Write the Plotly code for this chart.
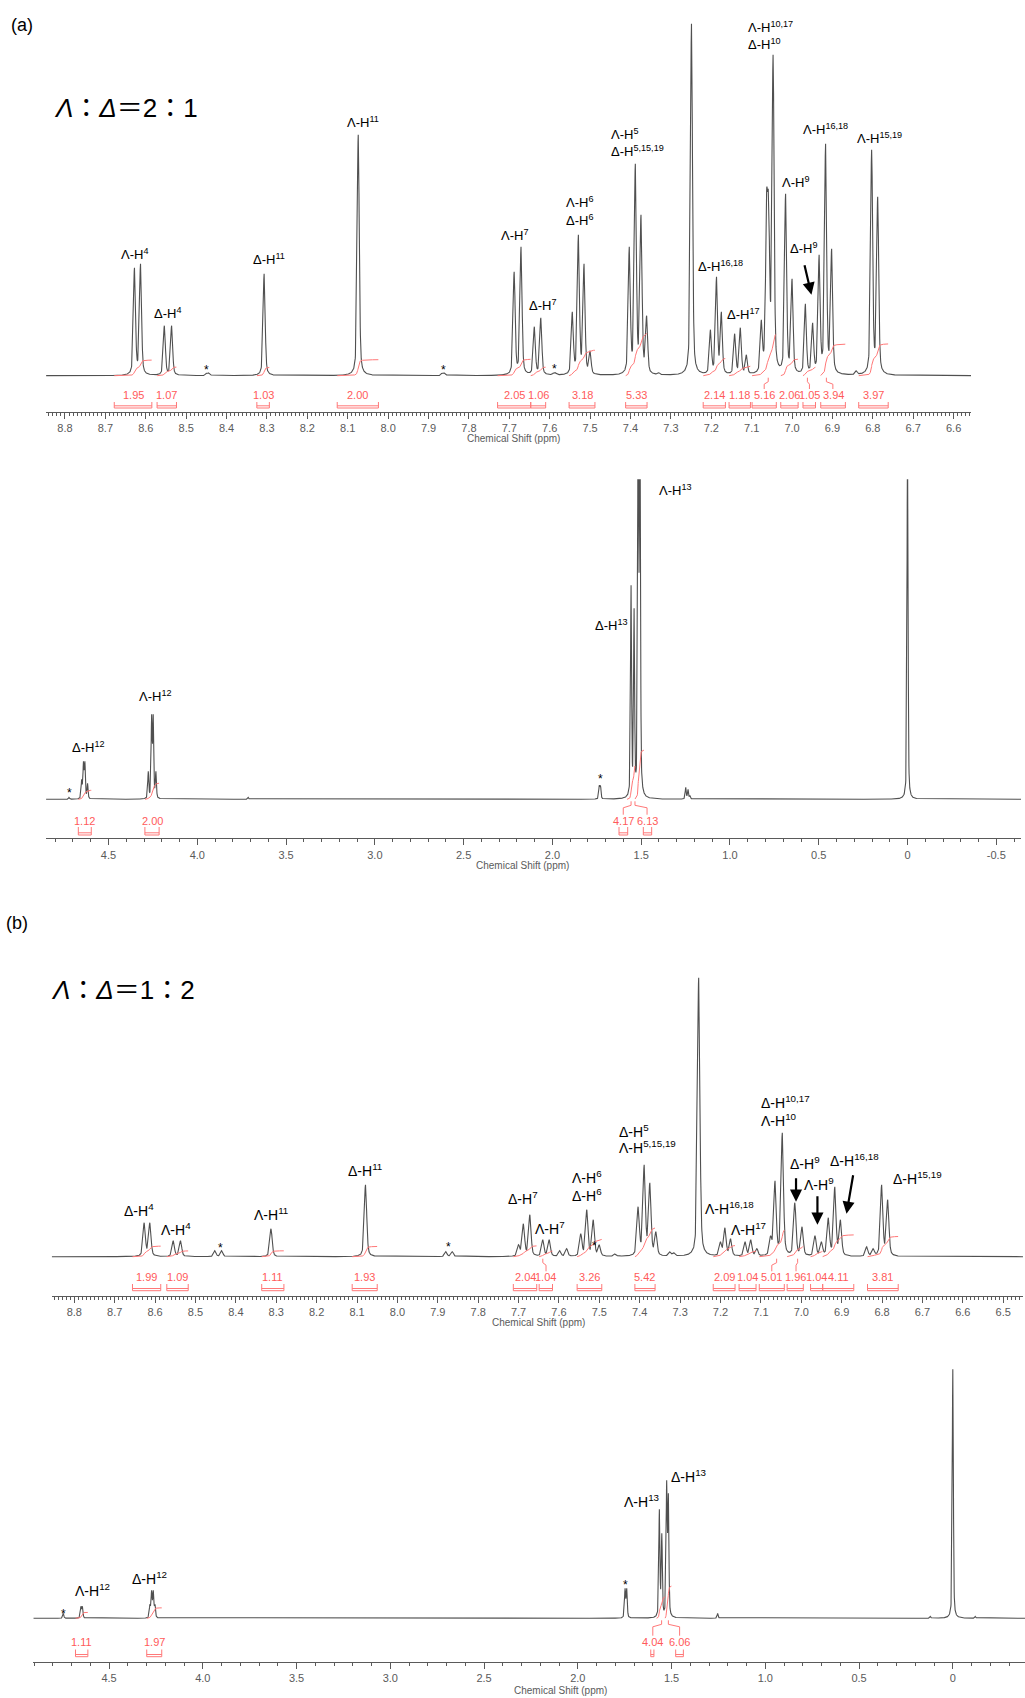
import numpy as np
import plotly.graph_objects as go

W, H = 1025, 1698

# ======================= DATA =======================
# ---- (a) Λ:Δ = 2:1, aromatic region ----
a1_peak_ppm = [8.628, 8.613, 8.554, 8.536, 8.449, 8.443, 8.307, 8.074, 7.866, 7.860,
               7.688, 7.671, 7.638, 7.622, 7.590, 7.585, 7.544, 7.529, 7.515, 7.500,
               7.403, 7.388, 7.374, 7.360, 7.330, 7.249, 7.202, 7.187, 7.175, 7.142,
               7.128, 7.113, 7.076, 7.063, 7.058, 7.047, 7.016, 7.000, 6.967, 6.949,
               6.933, 6.917, 6.902, 6.841, 6.803, 6.788]
a1_peak_int = [108, 112, 50, 50, 3, 3, 102, 241, 3, 3,
               104, 129, 49, 58, 3, 3, 64, 141, 112, 25,
               129, 212, 161, 60, 3, 352, 46, 99, 64, 42,
               48, 21, 56, 184, 182, 321, 182, 97, 72, 53,
               121, 232, 127, 5, 226, 179]
a1_int_hi = [8.678, 8.572, 8.325, 8.126, 7.729, 7.647, 7.552, 7.412, 7.220, 7.156, 7.099, 7.028, 6.973, 6.929, 6.835]
a1_int_lo = [8.585, 8.524, 8.294, 8.024, 7.647, 7.610, 7.488, 7.359, 7.165, 7.103, 7.039, 6.985, 6.942, 6.868, 6.762]
a1_int_val = ["1.95", "1.07", "1.03", "2.00", "2.05", "1.06", "3.18", "5.33", "2.14", "1.18", "5.16", "2.06", "1.05", "3.94", "3.97"]
a1_tick_ppm = [8.8, 8.7, 8.6, 8.5, 8.4, 8.3, 8.2, 8.1, 8.0, 7.9, 7.8, 7.7, 7.6, 7.5, 7.4, 7.3, 7.2, 7.1, 7.0, 6.9, 6.8, 6.7, 6.6]
a1_tick_text = ["8.8", "8.7", "8.6", "8.5", "8.4", "8.3", "8.2", "8.1", "8.0", "7.9", "7.8", "7.7", "7.6", "7.5", "7.4", "7.3", "7.2", "7.1", "7.0", "6.9", "6.8", "6.7", "6.6"]

# ---- (a) aliphatic / full region ----
a2_peak_ppm = [4.722, 4.651, 4.641, 4.633, 4.618, 4.276, 4.257, 4.248, 4.233, 3.713,
               1.736, 1.729, 1.557, 1.540, 1.517, 1.507, 1.249, 1.236, 1.225, 0.000]
a2_peak_int = [2, 20, 38, 38, 16, 28, 85, 85, 28, 2,
               14, 14, 214, 191, 420, 420, 12, 10, 4, 360]
a2_int_hi = [4.670, 4.295, 1.625, 1.488]
a2_int_lo = [4.597, 4.215, 1.576, 1.441]
a2_int_val = ["1.12", "2.00", "4.17", "6.13"]
a2_tick_ppm = [4.5, 4.0, 3.5, 3.0, 2.5, 2.0, 1.5, 1.0, 0.5, 0.0, -0.5]
a2_tick_text = ["4.5", "4.0", "3.5", "3.0", "2.5", "2.0", "1.5", "1.0", "0.5", "0", "-0.5"]

# ---- (b) Λ:Δ = 1:2, aromatic region ----
b1_peak_ppm = [8.627, 8.613, 8.555, 8.537, 8.452, 8.435, 8.313, 8.079, 7.880, 7.864,
               7.700, 7.688, 7.672, 7.640, 7.624, 7.598, 7.581, 7.546, 7.531, 7.515,
               7.500, 7.461, 7.404, 7.389, 7.375, 7.360, 7.325, 7.315, 7.254, 7.200,
               7.189, 7.175, 7.139, 7.125, 7.110, 7.076, 7.065, 7.047, 7.016, 6.998,
               6.966, 6.950, 6.933, 6.917, 6.903, 6.838, 6.822, 6.801, 6.786]
b1_peak_int = [34, 34, 16, 16, 6, 6, 28, 72, 5, 5,
               12, 33, 42, 17, 17, 6, 8, 23, 47, 37,
               12, 3, 50, 92, 74, 25, 5, 4, 279, 15,
               29, 18, 15, 17, 8, 21, 76, 124, 54, 30,
               21, 15, 39, 70, 37, 10, 8, 72, 57]
b1_int_hi = [8.656, 8.571, 8.336, 8.112, 7.713, 7.649, 7.555, 7.412, 7.218, 7.154, 7.104, 7.035, 6.977, 6.947, 6.836]
b1_int_lo = [8.586, 8.518, 8.281, 8.050, 7.655, 7.616, 7.494, 7.362, 7.164, 7.112, 7.042, 6.995, 6.947, 6.870, 6.760]
b1_int_val = ["1.99", "1.09", "1.11", "1.93", "2.04", "1.04", "3.26", "5.42", "2.09", "1.04", "5.01", "1.96", "1.04", "4.11", "3.81"]
b1_tick_ppm = [8.8, 8.7, 8.6, 8.5, 8.4, 8.3, 8.2, 8.1, 8.0, 7.9, 7.8, 7.7, 7.6, 7.5, 7.4, 7.3, 7.2, 7.1, 7.0, 6.9, 6.8, 6.7, 6.6, 6.5]
b1_tick_text = ["8.8", "8.7", "8.6", "8.5", "8.4", "8.3", "8.2", "8.1", "8.0", "7.9", "7.8", "7.7", "7.6", "7.5", "7.4", "7.3", "7.2", "7.1", "7.0", "6.9", "6.8", "6.7", "6.6", "6.5"]

# ---- (b) aliphatic / full region ----
b2_peak_ppm = [4.744, 4.650, 4.642, 4.282, 4.273, 4.264, 4.255, 1.748, 1.739, 1.565,
               1.552, 1.526, 1.517, 1.254, 0.120, 0.000, -0.120]
b2_peak_int = [5, 12, 12, 14, 28, 28, 14, 30, 30, 109,
               85, 138, 125, 5, 2, 249, 2]
b2_int_hi = [4.679, 4.299, 1.611, 1.478]
b2_int_lo = [4.613, 4.219, 1.594, 1.437]
b2_int_val = ["1.11", "1.97", "4.04", "6.06"]
b2_tick_ppm = [4.5, 4.0, 3.5, 3.0, 2.5, 2.0, 1.5, 1.0, 0.5, 0.0]
b2_tick_text = ["4.5", "4.0", "3.5", "3.0", "2.5", "2.0", "1.5", "1.0", "0.5", "0"]

# integral curves drawn over the true region when the bracket is displaced
a2_curve_hi = [4.670, 4.295, 1.580, 1.535]
a2_curve_lo = [4.597, 4.215, 1.535, 1.484]
b2_curve_hi = [4.679, 4.299, 1.580, 1.535]
b2_curve_lo = [4.613, 4.219, 1.535, 1.500]

# peak assignment labels: (text, ppm, height, anchor)
a1_labels = [
    ("Λ-H<sup>4</sup>", 8.627, 122, "center"), ("Δ-H<sup>4</sup>", 8.545, 63, "center"),
    ("Δ-H<sup>11</sup>", 8.295, 117, "center"), ("Λ-H<sup>11</sup>", 8.062, 254, "center"),
    ("Λ-H<sup>7</sup>", 7.687, 141, "center"), ("Δ-H<sup>7</sup>", 7.619, 71, "center"),
    ("Λ-H<sup>6</sup>", 7.565, 174, "left"), ("Δ-H<sup>6</sup>", 7.565, 156, "left"),
    ("Λ-H<sup>5</sup>", 7.453, 242, "left"), ("Δ-H<sup>5,15,19</sup>", 7.453, 225, "left"),
    ("Δ-H<sup>16,18</sup>", 7.177, 110, "center"), ("Δ-H<sup>17</sup>", 7.121, 62, "center"),
    ("Λ-H<sup>10,17</sup>", 7.114, 349, "left"), ("Δ-H<sup>10</sup>", 7.114, 332, "left"),
    ("Λ-H<sup>9</sup>", 6.991, 194, "center"), ("Δ-H<sup>9</sup>", 6.971, 128, "center"),
    ("Λ-H<sup>16,18</sup>", 6.916, 247, "center"), ("Λ-H<sup>15,19</sup>", 6.783, 238, "center"),
    ("*", 8.449, 6, "center"), ("*", 7.864, 6, "center"), ("*", 7.587, 7, "center"),
]
a2_labels = [
    ("Δ-H<sup>12</sup>", 4.610, 52, "center"), ("Λ-H<sup>12</sup>", 4.238, 103, "center"),
    ("Δ-H<sup>13</sup>", 1.670, 174, "center"), ("Λ-H<sup>13</sup>", 1.304, 309, "center"),
    ("*", 4.722, 6, "center"), ("*", 1.732, 20, "center"),
]
b1_labels = [
    ("Δ-H<sup>4</sup>", 8.640, 47, "center"), ("Λ-H<sup>4</sup>", 8.548, 28, "center"),
    ("*", 8.439, 9, "center"), ("Λ-H<sup>11</sup>", 8.313, 43, "center"),
    ("Δ-H<sup>11</sup>", 8.081, 87, "center"), ("*", 7.874, 10, "center"),
    ("Δ-H<sup>7</sup>", 7.689, 59, "center"), ("Λ-H<sup>7</sup>", 7.621, 29, "center"),
    ("Λ-H<sup>6</sup>", 7.573, 80, "left"), ("Δ-H<sup>6</sup>", 7.573, 62, "left"),
    ("*", 7.513, 11, "center"),
    ("Δ-H<sup>5</sup>", 7.457, 126, "left"), ("Λ-H<sup>5,15,19</sup>", 7.457, 110, "left"),
    ("Λ-H<sup>16,18</sup>", 7.177, 49, "center"), ("Λ-H<sup>17</sup>", 7.130, 28, "center"),
    ("Δ-H<sup>10,17</sup>", 7.104, 155, "left"), ("Λ-H<sup>10</sup>", 7.104, 137, "left"),
    ("Δ-H<sup>9</sup>", 6.991, 94, "center"), ("Λ-H<sup>9</sup>", 6.955, 73, "center"),
    ("Δ-H<sup>16,18</sup>", 6.867, 97, "center"), ("Δ-H<sup>15,19</sup>", 6.713, 79, "center"),
]
b2_labels = [
    ("*", 4.744, 4, "center"), ("Λ-H<sup>12</sup>", 4.586, 28, "center"),
    ("Δ-H<sup>12</sup>", 4.282, 40, "center"), ("*", 1.745, 33, "center"),
    ("Λ-H<sup>13</sup>", 1.658, 117, "center"), ("Δ-H<sup>13</sup>", 1.407, 142, "center"),
]
# arrows: (tail ppm, tail height, tip ppm, tip height)
a1_arrows = [(6.970, 112, 6.952, 81)]
b1_arrows = [(7.013, 80, 7.013, 55), (6.960, 62, 6.960, 32), (6.871, 83, 6.888, 43)]
# connectors from integration label to integrated region: (label ppm, target ppm)
a1_conn = [(7.069, 7.059), (6.957, 6.962), (6.899, 6.915)]
a2_conn = [(1.601, 1.557), (1.467, 1.535)]
b1_conn = [(7.632, 7.640), (7.073, 7.061), (7.013, 7.009)]
b2_conn = [(1.600, 1.553), (1.457, 1.517)]

# ======================= HELPERS =======================
ETA = 0.45  # Lorentzian fraction of the pseudo-Voigt line shape


def shape(d, g):
    r = (d / g) ** 2
    return ETA / (1.0 + r) + (1.0 - ETA) * np.exp(-np.log(2.0) * r)


def spectrum(ppm, heights, gamma, x_hi, x_lo, step):
    p = np.asarray(ppm, float)
    h = np.asarray(heights, float)
    M = shape(p[:, None] - p[None, :], gamma)
    amp = h.copy()
    for _ in range(300):
        amp = np.clip(amp + 0.5 * (h - M @ amp), 0, None)
    grid = np.union1d(np.arange(x_lo, x_hi, step), p)
    y = shape(grid[:, None] - p[None, :], gamma) @ amp
    return grid, y


def integral_curve(grid, y, hi, lo, total):
    m = (grid >= lo) & (grid <= hi)
    g = grid[m][::-1]
    c = np.cumsum(y[m][::-1])
    c = c / c[-1] * total
    return g, c


panels = [
    dict(peaks=(a1_peak_ppm, a1_peak_int), gamma=0.0030, step=0.0004,
         ihi=a1_int_hi, ilo=a1_int_lo, ival=a1_int_val, chi=a1_int_hi, clo=a1_int_lo,
         ticks=(a1_tick_ppm, a1_tick_text), minor=0.01, labels=a1_labels, arrows=a1_arrows,
         conn=a1_conn, px=(46, 971), ppm=(8.847, 6.557), ypx=(412, 20, 375.7),
         lab_y=-19.3, br_top=-26.3, br_bot=-32.3, k=8.0, fs=13, title_px=(513, 438)),
    dict(peaks=(a2_peak_ppm, a2_peak_int), gamma=0.0035, step=0.0008,
         ihi=a2_int_hi, ilo=a2_int_lo, ival=a2_int_val, chi=a2_curve_hi, clo=a2_curve_lo,
         ticks=(a2_tick_ppm, a2_tick_text), minor=0.1, labels=a2_labels, arrows=[],
         conn=a2_conn, px=(46, 1021), ppm=(4.852, -0.639), ypx=(838.3, 479.3, 799.3),
         lab_y=-21.4, br_top=-27.7, br_bot=-35.7, k=8.0, fs=13, title_px=(522, 865.7)),
    dict(peaks=(b1_peak_ppm, b1_peak_int), gamma=0.0035, step=0.0004,
         ihi=b1_int_hi, ilo=b1_int_lo, ival=b1_int_val, chi=b1_int_hi, clo=b1_int_lo,
         ticks=(b1_tick_ppm, b1_tick_text), minor=0.01, labels=b1_labels, arrows=b1_arrows,
         conn=b1_conn, px=(51.7, 1023), ppm=(8.856, 6.451), ypx=(1295.7, 960, 1256.7),
         lab_y=-20.6, br_top=-27.3, br_bot=-34.0, k=5.3, fs=14, title_px=(538, 1322.3)),
    dict(peaks=(b2_peak_ppm, b2_peak_int), gamma=0.0035, step=0.0008,
         ihi=b2_int_hi, ilo=b2_int_lo, ival=b2_int_val, chi=b2_curve_hi, clo=b2_curve_lo,
         ticks=(b2_tick_ppm, b2_tick_text), minor=0.1, labels=b2_labels, arrows=[],
         conn=b2_conn, px=(33.3, 1025), ppm=(4.904, -0.385), ypx=(1661.7, 1360, 1618.3),
         lab_y=-23.4, br_top=-31.2, br_bot=-38.4, k=5.3, fs=14, title_px=(560, 1690.7)),
]

SPEC_COLOR = "#505050"
RED = "#ff5a5a"
RED_LINE = "#ff7878"
AX_COLOR = "#5a5a5a"
FONT = "Liberation Sans, Arial, Noto Sans CJK JP, sans-serif"

fig = go.Figure()
layout = dict(width=W, height=H, margin=dict(l=0, r=0, t=0, b=0),
              paper_bgcolor="white", plot_bgcolor="white", showlegend=False,
              font=dict(family=FONT, color="black"))
annotations = []

for i, P in enumerate(panels):
    n = "" if i == 0 else str(i + 1)
    xr, yr = "x" + n, "y" + n
    hi, lo = P["ppm"]
    y_axis_px, y_top_px, y_base_px = P["ypx"]
    y_min = -(y_axis_px - y_base_px)
    y_max = y_base_px - y_top_px

    grid, spec = spectrum(P["peaks"][0], P["peaks"][1], P["gamma"], hi, lo, P["step"])
    fig.add_trace(go.Scatter(x=grid, y=spec, mode="lines", xaxis=xr, yaxis=yr,
                             line=dict(color=SPEC_COLOR, width=1.1), hoverinfo="skip"))

    # integral curves
    ix, iy = [], []
    for chi_, clo_, v in zip(P["chi"], P["clo"], P["ival"]):
        g, c = integral_curve(grid, spec, chi_, clo_, float(v) * P["k"])
        ix += list(g) + [None]
        iy += list(c) + [None]
    fig.add_trace(go.Scatter(x=ix, y=iy, mode="lines", xaxis=xr, yaxis=yr,
                             line=dict(color=RED_LINE, width=1), hoverinfo="skip"))

    # integration brackets + labels
    bx, by = [], []
    t, b = P["br_top"], P["br_bot"]
    for bhi, blo, v in zip(P["ihi"], P["ilo"], P["ival"]):
        bx += [bhi, bhi, blo, blo, None, bhi, blo, None]
        by += [t, b, b, t, None, b + 2.2, b + 2.2, None]
        annotations.append(dict(x=(bhi + blo) / 2, y=P["lab_y"], xref=xr, yref=yr,
                                text=v, showarrow=False, xanchor="center", yanchor="middle",
                                font=dict(size=11, color=RED, family=FONT)))
    for lab, tgt in P["conn"]:
        bx += [tgt, tgt, lab, lab, None]
        by += [-2, -6, -8.5, P["lab_y"] + 6, None]
    fig.add_trace(go.Scatter(x=bx, y=by, mode="lines", xaxis=xr, yaxis=yr,
                             line=dict(color=RED_LINE, width=1), hoverinfo="skip"))

    # peak labels
    for txt, px_, py_, anc in P["labels"]:
        annotations.append(dict(x=px_, y=py_, xref=xr, yref=yr, text=txt, showarrow=False,
                                xanchor=anc, yanchor="middle",
                                font=dict(size=P["fs"] if txt != "*" else 12, color="black",
                                          family=FONT)))
    for tx, ty, hx, hy in P["arrows"]:
        annotations.append(dict(x=hx, y=hy, ax=tx, ay=ty, xref=xr, yref=yr,
                                axref=xr, ayref=yr, text="", showarrow=True,
                                arrowhead=2, arrowsize=1.1, arrowwidth=2.2,
                                arrowcolor="black"))

    # axis title
    annotations.append(dict(x=P["title_px"][0] / W, y=1 - P["title_px"][1] / H,
                            xref="paper", yref="paper", text="Chemical Shift (ppm)",
                            showarrow=False, xanchor="center", yanchor="middle",
                            font=dict(size=10, color=AX_COLOR, family=FONT)))

    layout["xaxis" + n] = dict(
        domain=[P["px"][0] / W, P["px"][1] / W], range=[hi, lo], anchor=yr,
        showline=True, linecolor=AX_COLOR, linewidth=1, mirror=False,
        ticks="outside", ticklen=6, tickwidth=1, tickcolor=AX_COLOR,
        tickmode="array", tickvals=P["ticks"][0], ticktext=P["ticks"][1],
        tickfont=dict(size=11, color=AX_COLOR, family=FONT),
        showgrid=False, zeroline=False, fixedrange=True,
        minor=dict(ticks="outside", ticklen=3, tickwidth=1, tickcolor=AX_COLOR,
                   tickmode="linear", tick0=0, dtick=P["minor"], showgrid=False),
    )
    layout["yaxis" + n] = dict(
        domain=[1 - y_axis_px / H, 1 - y_top_px / H], range=[y_min, y_max], anchor=xr,
        visible=False, showgrid=False, zeroline=False, fixedrange=True,
    )

# panel captions and ratio titles
annotations += [
    dict(x=9 / W, y=1 - 25 / H, xref="paper", yref="paper", text="(a)", showarrow=False,
         xanchor="left", yanchor="middle", font=dict(size=18, color="black", family=FONT)),
    dict(x=4 / W, y=1 - 923 / H, xref="paper", yref="paper", text="(b)", showarrow=False,
         xanchor="left", yanchor="middle", font=dict(size=18, color="black", family=FONT)),
    dict(x=52 / W, y=1 - 108 / H, xref="paper", yref="paper",
         text="<i>Λ</i>：<i>Δ</i>＝2：1", showarrow=False, xanchor="left", yanchor="middle",
         font=dict(size=26, color="black", family=FONT)),
    dict(x=49 / W, y=1 - 990 / H, xref="paper", yref="paper",
         text="<i>Λ</i>：<i>Δ</i>＝1：2", showarrow=False, xanchor="left", yanchor="middle",
         font=dict(size=26, color="black", family=FONT)),
]
layout["annotations"] = annotations
fig.update_layout(**layout)
fig.write_html("out.html")
